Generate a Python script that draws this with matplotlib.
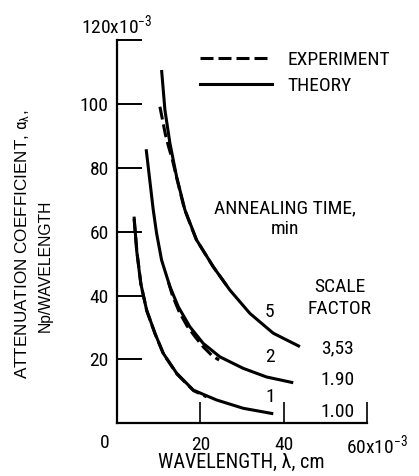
import matplotlib
matplotlib.use('Agg')
import matplotlib.pyplot as plt
from matplotlib import font_manager as fm
from matplotlib.lines import Line2D


def pick_narrow_font():
    # look for a condensed sans among the installed files
    pref = ['Liberation Sans Narrow', 'Roboto Condensed', 'Noto Sans', 'DejaVu Sans',
            'Open Sans', 'Roboto', 'Noto Sans Condensed', 'Open Sans Condensed']
    found = []
    for f in fm.fontManager.ttflist:
        st = str(f.stretch).lower()
        name = f.name
        w = f.weight
        if isinstance(w, str):
            w = fm.weight_dict.get(w.lower(), 400)
        if f.style != 'normal' or not (350 <= w <= 450):
            continue
        narrow = ('Narrow' in name or ('Condensed' in name and 'Semi' not in name
                                       and 'Extra' not in name) or st == 'condensed')
        if narrow:
            rank = pref.index(name) if name in pref else len(pref)
            found.append((rank, name, st))
    if not found:
        return None
    found.sort()
    return found[0][1], found[0][2]


narrow = pick_narrow_font()
if narrow:
    fam, stretch = narrow
    plt.rcParams['font.family'] = [fam, 'DejaVu Sans']
    plt.rcParams['font.stretch'] = stretch
    spec = f'{fam}:stretch={stretch}'
    fs = 14
else:
    plt.rcParams['font.family'] = ['Liberation Sans', 'DejaVu Sans']
    spec = 'Liberation Sans'
    fs = 12
plt.rcParams['mathtext.fontset'] = 'custom'
plt.rcParams['mathtext.rm'] = spec
plt.rcParams['mathtext.it'] = spec
plt.rcParams['mathtext.bf'] = spec

# theory curves (wavelength in 1e-3 cm, attenuation in 1e-3 Np/wavelength)
theory_1_x = [4.1, 4.7, 5.7, 7.1, 9.1, 11.1, 14.3, 18.3, 23.9, 30.3, 37.5]
theory_1_y = [64.7, 54.3, 43.8, 35.5, 28.2, 21.9, 15.7, 10.4, 7.3, 4.7, 3.0]
theory_2_x = [7.0, 8.7, 9.5, 10.7, 12.7, 14.7, 17.5, 20.7, 24.7, 30.3, 35.9, 42.3]
theory_2_y = [85.8, 66.8, 59.5, 51.1, 42.8, 36.5, 30.2, 25.0, 20.8, 17.2, 14.5, 12.7]
theory_5_x = [10.7, 11.5, 12.7, 14.3, 16.3, 19.1, 23.1, 27.1, 31.9, 37.5, 43.9]
theory_5_y = [110.6, 98.1, 87.7, 77.2, 66.8, 57.4, 49.0, 41.7, 34.4, 28.2, 24.0]

# experiment curves
exp_1_x = [4.1, 4.8, 5.8, 7.2, 9.2, 11.2, 14.4, 18.4, 21.5]
exp_1_y = [64.0, 53.5, 43.0, 35.0, 27.8, 21.6, 15.4, 10.2, 8.3]
exp_2_x = [12.4, 13.3, 14.9, 16.8, 18.8, 20.8, 22.8, 24.5]
exp_2_y = [44.0, 40.0, 35.0, 30.5, 27.0, 23.8, 21.2, 19.8]
exp_5_x = [10.3, 11.0, 11.6, 12.4, 13.3, 14.2, 16.2, 19.0, 23.0, 27.0]
exp_5_y = [99.1, 94.5, 90.5, 86.5, 82.5, 77.5, 67.0, 57.6, 49.2, 41.9]

annealing_labels = ['1', '2', '5']
scale_factors = ['1.00', '1.90', '3,53']

W, H = 419, 476
fig = plt.figure(figsize=(W / 100, H / 100), dpi=100)
ax = fig.add_axes([117 / W, 52.7 / H, 250 / W, 383.3 / H])

lw = 2.2
dash = (13 * 0.72 / lw, 5 * 0.72 / lw)
for tx, ty in [(theory_1_x, theory_1_y), (theory_2_x, theory_2_y), (theory_5_x, theory_5_y)]:
    ax.plot(tx, ty, color='black', lw=lw, solid_capstyle='butt')
for ex, ey in [(exp_1_x, exp_1_y), (exp_2_x, exp_2_y), (exp_5_x, exp_5_y)]:
    ax.plot(ex, ey, color='black', lw=lw, dashes=dash)

ax.set_xlim(0, 60)
ax.set_ylim(0, 120)
ax.spines['top'].set_visible(False)
ax.spines['right'].set_visible(False)
for s in ['left', 'bottom']:
    ax.spines[s].set_linewidth(1.6)

ax.set_yticks([20, 40, 60, 80, 100, 120])
ax.set_yticklabels(['20', '40', '60', '80', '100', ''])
ax.set_xticks([20, 40, 60])
ax.set_xticklabels(['20', '40', ''])
ax.tick_params(axis='y', direction='in', length=18, width=1.4, labelsize=fs, pad=6)
ax.tick_params(axis='x', direction='in', length=15, width=1.2, labelsize=fs, pad=9)

ax.text(0, 121, '120x10$^{-3}$', fontsize=fs, ha='center', va='bottom', clip_on=False)
ax.text(-2.9, -3.4, '0', fontsize=fs, ha='center', va='top', clip_on=False)
ax.text(62.3, -3.2, '60x10$^{-3}$', fontsize=fs, ha='center', va='top', clip_on=False)

ax.set_xlabel('WAVELENGTH, \u03bb, cm', fontsize=fs + 0.5)
ax.xaxis.set_label_coords(0.499, -0.077)
fig.text(22.5 / W, 1 - 244 / H, 'ATTENUATION COEFFICIENT, $\\alpha_{\\lambda}$,',
         rotation=90, ha='center', va='center', fontsize=12.3,
         family=['Liberation Sans', 'DejaVu Sans'], stretch='normal')
fig.text(45 / W, 1 - 266 / H, 'Np/WAVELENGTH', rotation=90, ha='center', va='center',
         fontsize=11.3, family=['Liberation Sans', 'DejaVu Sans'], stretch='normal')

# curve labels and scale factors
for lab, ly in zip(annealing_labels, [8.2, 20.8, 34.9]):
    ax.text(36.7, ly, lab, fontsize=fs, ha='center', va='center')
for sf, sy in zip(scale_factors, [3.6, 13.6, 23.5]):
    ax.text(53.0, sy, sf, fontsize=fs, ha='center', va='center')
ax.text(53.5, 39.2, 'SCALE\nFACTOR', fontsize=fs, ha='center', va='center', linespacing=1.25)
ax.text(40.3, 64.0, 'ANNEALING TIME,\nmin', fontsize=fs, ha='center', va='center', linespacing=1.15)

handles = [Line2D([], [], color='black', lw=lw, dashes=dash),
           Line2D([], [], color='black', lw=lw)]
ax.legend(handles, ['EXPERIMENT', 'THEORY'], loc='upper left', frameon=False,
          bbox_to_anchor=(200 / W, 1 - 51 / H), bbox_transform=fig.transFigure,
          borderpad=0, borderaxespad=0, handlelength=3.7, handletextpad=0.8,
          labelspacing=0.4, fontsize=fs)

fig.savefig('out.png', dpi=100)
